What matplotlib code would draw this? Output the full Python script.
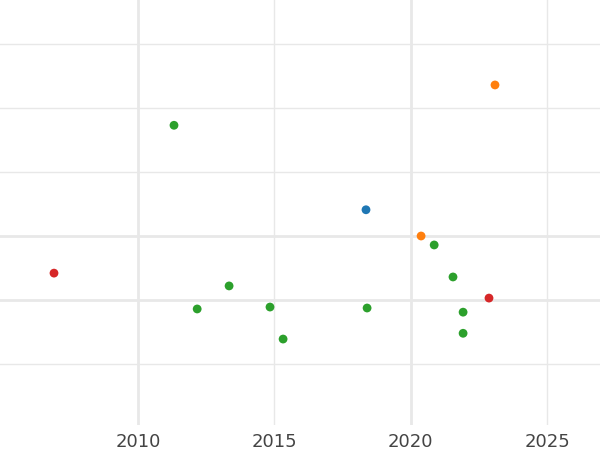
import matplotlib
matplotlib.use("Agg")
import matplotlib.pyplot as plt

years = [2006.92, 2011.32, 2018.36, 2023.09, 2020.38, 2020.86, 2021.55, 2022.87,
         2013.34, 2012.17, 2014.84, 2018.40, 2015.32, 2021.92, 2021.92]
values = [1.42, 3.73, 2.41, 4.36, 2.0, 1.86, 1.36, 1.03,
          1.22, 0.86, 0.89, 0.875, 0.39, 0.81, 0.48]
colors = ["#d62728", "#2ca02c", "#1f77b4", "#ff7f0e", "#ff7f0e", "#2ca02c", "#2ca02c", "#d62728",
          "#2ca02c", "#2ca02c", "#2ca02c", "#2ca02c", "#2ca02c", "#2ca02c", "#2ca02c"]
xticks = [2010, 2015, 2020, 2025]
ygrid = [0, 1, 2, 3, 4, 5]

fig = plt.figure(figsize=(6, 4.5), dpi=100)
ax = fig.add_axes([0, 25/450, 1, 425/450])
ax.set_xlim(2004.94, 2026.94)
ax.set_ylim(-0.953, 5.6875)
for x in xticks:
    ax.axvline(x, color="#e8e8e8", lw=2.0 if x in (2010, 2020) else 1.0, zorder=0)
for y in ygrid:
    ax.axhline(y, color="#e8e8e8", lw=2.0 if y in (1, 2) else 1.0, zorder=0)
ax.scatter(years, values, c=colors, s=40, zorder=3, edgecolors="none")
ax.set_xticks(xticks)
ax.set_xticklabels([str(x) for x in xticks], fontsize=13, color="#444444")
ax.set_yticks([])
ax.tick_params(axis="x", length=0, pad=6)
for s in ax.spines.values():
    s.set_visible(False)
fig.savefig("out.png")
